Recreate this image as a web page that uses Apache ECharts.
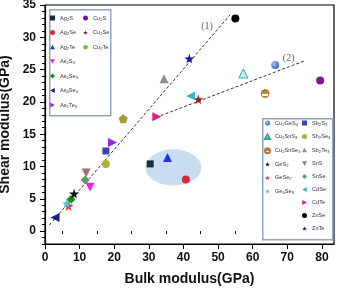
<!DOCTYPE html>
<html><head><meta charset="utf-8">
<script src="https://cdn.jsdelivr.net/npm/echarts@6/dist/echarts.min.js"></script>
<style>html,body{margin:0;padding:0;background:#fff}#c{width:341px;height:288px}</style>
</head><body><div id="c"></div>
<script>
// ---------- data ----------
const compounds = ['Ag2S','Ag2Se','Ag2Te','As2S3','As2Se3','As4Se4','As2Te3',
  'Cu2S','Cu2Se','Cu2Te',
  'Cu2GeS4','Cu2SnS3','Cu2SnSe3','GeS2','GeSe2','Ge4Se9',
  'Sb2S3','Sb2Se3','Sb2Te3','SnS','SnSe','CdSe','CdTe','ZnSe','ZnTe'];
const bulkModulus = [30.4,40.7,35.4,13.0,7.5,2.9,19.5,
  79.5,44.3,22.6,
  66.5,57.3,63.6,8.4,6.8,6.3,
  17.6,17.6,34.4,11.9,11.6,42.1,32.3,55.0,41.7];
const shearModulus = [10.4,8.0,11.4,6.8,4.9,2.1,13.7,
  23.3,20.4,17.4,
  25.7,24.4,21.3,5.8,3.9,4.3,
  12.4,10.4,23.6,9.0,7.9,20.9,17.7,32.9,26.7];
const fitLine1 = [[1.25,0.93],[53.5,33.5]];
const fitLine2 = [[32.1,17.6],[75.2,26.4]];
const lineLabelNames = ['(1)','(2)'];
const lineLabelPos = [[46.8,31.7],[70.4,26.8]];
const ellipseCenter = [37.1, 9.85];
const ellipseRadii = [8.1, 2.8];
const xTickLabels = [0,10,20,30,40,50,60,70,80];
const xMinorTicks = [5,15,25,35,45,55,65,75];
const yTickLabels = [0,5,10,15,20,25,30,35];
const yMinorTicks = [-2,-1,1,2,3,4,6,7,8,9,11,12,13,14,16,17,18,19,21,22,23,24,26,27,28,29,31,32,33,34];
const legendLeftA = compounds.slice(0,7);
const legendLeftB = compounds.slice(7,10);
const legendRightA = compounds.slice(10,16);
const legendRightB = compounds.slice(16);

// ---------- styles ----------
const P = {
  up: 'path://M5,0 L10,9 L0,9 Z',
  down: 'path://M0,0 L10,0 L5,9 Z',
  left: 'path://M0,5 L9,0 L9,10 Z',
  right: 'path://M0,0 L9,5 L0,10 Z',
  star: 'path://M50,0 L61,35 L98,35 L68,57 L79,91 L50,70 L21,91 L32,57 L2,35 L39,35 Z',
  pent: 'path://M50,0 L98,35 L79,91 L21,91 L2,35 Z'
};
const halfFill = {type:'linear',x:0,y:0,x2:0,y2:1,colorStops:[
  {offset:0,color:'#b8773a'},{offset:0.55,color:'#c9894a'},{offset:0.55,color:'#ffffff'},{offset:0.8,color:'#ffffff'},{offset:0.8,color:'#b8773a'},{offset:1,color:'#b8773a'}]};
const sphere = {type:'radial',x:0.35,y:0.35,r:0.7,colorStops:[{offset:0,color:'#a9c8ea'},{offset:1,color:'#2f64a8'}]};
const sty = {
  Ag2S:{s:'rect',z:7,c:'#1c2b40'},
  Ag2Se:{s:'circle',z:8,c:'#d8283a'},
  Ag2Te:{s:P.up,z:9,c:'#1f35e0'},
  As2S3:{s:P.down,z:9,c:'#f020e8'},
  As2Se3:{s:'diamond',z:9,c:'#12901a'},
  As4Se4:{s:P.left,z:9,c:'#142080'},
  As2Te3:{s:P.right,z:9,c:'#9a22f0'},
  Cu2S:{s:'circle',z:8,c:'#8a1190'},
  Cu2Se:{s:P.star,z:10,c:'#8c1c24'},
  Cu2Te:{s:P.pent,z:9,c:'#9aa024'},
  Cu2GeS4:{s:'circle',z:8,c:sphere},
  Cu2SnS3:{s:P.up,z:9,c:'#cdeeee',b:'#2aa8a8'},
  Cu2SnSe3:{s:'circle',z:8,c:halfFill,b:'#b8773a'},
  GeS2:{s:P.star,z:10,c:'#111111'},
  GeSe2:{s:P.star,z:10,c:'#f02020'},
  Ge4Se9:{s:P.star,z:10,c:'#4ec6d6'},
  Sb2S3:{s:'rect',z:7,c:'#3646a8'},
  Sb2Se3:{s:'circle',z:8,c:'#a6b334'},
  Sb2Te3:{s:P.up,z:9,c:'#8e8e8e'},
  SnS:{s:P.down,z:9,c:'#a07474'},
  SnSe:{s:'diamond',z:9,c:'#5f9a66'},
  CdSe:{s:P.left,z:9,c:'#3cb4c8'},
  CdTe:{s:P.right,z:9,c:'#e81484'},
  ZnSe:{s:'circle',z:8,c:'#000000'},
  ZnTe:{s:P.star,z:10,c:'#1616a6'}
};

const FONT = "'Liberation Sans', Arial, sans-serif";
function sub(name){
  return name.replace(/([A-Za-z]+)|(\d+)/g, (m,a,d)=> a ? '{n|'+a+'}' : '{s|'+d+'}');
}
const legendText = {
  fontFamily: FONT, color:'#333',
  rich: {
    n:{fontSize:5.6, lineHeight:7, fontFamily:FONT, color:'#333'},
    s:{fontSize:4.2, lineHeight:4.2, verticalAlign:'bottom', fontFamily:FONT, color:'#333', padding:[2.5,0,0,0]}
  }
};
function mkLegend(data, left, top, gap){
  return {data, orient:'vertical', left, top, itemGap:gap, itemWidth:5, itemHeight:5,
    padding:0, selectedMode:false, formatter:sub, textStyle:legendText, z:20};
}

const series = compounds.map((name,i)=>{
  const st = sty[name];
  return {
    name, type:'scatter', xAxisIndex:0, yAxisIndex:0,
    symbol: st.s, symbolSize: st.z, z:5,
    itemStyle: Object.assign({color: st.c, opacity:1}, st.b ? {borderColor: st.b, borderWidth:1} : {}),
    data: [[bulkModulus[i], shearModulus[i]]]
  };
});
series.unshift({
  type:'custom', name:'ellipse', z:1, silent:true,
  data:[[ellipseCenter[0], ellipseCenter[1], ellipseRadii[0], ellipseRadii[1]]],
  renderItem:(params, api)=>{
    const c = api.coord([api.value(0), api.value(1)]);
    const s = api.size([api.value(2), api.value(3)]);
    return {type:'circle', shape:{cx:0,cy:0,r:1}, x:c[0], y:c[1], scaleX:s[0], scaleY:s[1],
      style:{fill:'rgba(182,210,238,0.75)'}};
  }
});
[fitLine1, fitLine2].forEach((ln,k)=>{
  series.push({type:'line', name:'fit'+k, data:ln, symbol:'none', z:3, silent:true,
    lineStyle:{color:'#333', width:1, type:[3,2]}});
});
series.push({type:'scatter', name:'lbl', symbolSize:0, silent:true, z:4,
  data: lineLabelPos.map((p,i)=>({value:p, name:lineLabelNames[i]})),
  label:{show:true, position:'inside', formatter:'{b}', fontFamily:"'Liberation Serif', 'DejaVu Serif', serif", fontSize:10, color:'#333'}});

const chart = echarts.init(document.getElementById('c'), null, {renderer:'canvas'});
chart.setOption({
  animation:false,
  backgroundColor:'#fff',
  grid:{left:45, right:7, top:5, bottom:44, containLabel:false, outerBoundsMode:'none',
    show:true, borderColor:'#000', borderWidth:1.2, backgroundColor:'transparent'},
  xAxis:[{
    type:'value', min:0, max:83.5,
    name:'Bulk modulus(GPa)', nameLocation:'middle', nameGap:28,
    nameTextStyle:{fontFamily:FONT, fontWeight:'bold', fontSize:14, color:'#111'},
    axisLine:{show:true, onZero:false, lineStyle:{color:'#000', width:1.2}},
    axisTick:{show:true, customValues:xTickLabels, length:5, lineStyle:{color:'#000', width:1}},
    axisLabel:{customValues:xTickLabels, margin:8, fontFamily:FONT, fontWeight:'bold', fontSize:12, color:'#111'},
    splitLine:{show:false}
  },{
    type:'value', min:0, max:83.5, position:'bottom',
    axisLine:{show:false}, axisLabel:{show:false}, splitLine:{show:false},
    axisTick:{show:true, customValues:xMinorTicks, length:3, lineStyle:{color:'#000', width:1}}
  }],
  yAxis:[{
    type:'value', min:-2, max:35,
    name:'Shear modulus(GPa)', nameLocation:'middle', nameGap:23,
    nameTextStyle:{fontFamily:FONT, fontWeight:'bold', fontSize:14, color:'#111'},
    axisLine:{show:true, onZero:false, lineStyle:{color:'#000', width:1.2}},
    axisTick:{show:true, customValues:yTickLabels, length:5, lineStyle:{color:'#000', width:1}},
    axisLabel:{customValues:yTickLabels, margin:9, fontFamily:FONT, fontWeight:'bold', fontSize:12, color:'#111'},
    splitLine:{show:false}
  },{
    type:'value', min:-2, max:35, position:'left', offset:0,
    axisLine:{show:false}, axisLabel:{show:false}, splitLine:{show:false},
    axisTick:{show:true, customValues:yMinorTicks, length:3, lineStyle:{color:'#000', width:1}}
  }],
  graphic:[
    {type:'rect', left:49, top:9, shape:{width:61, height:106}, style:{fill:'#fff', stroke:'#8fa4bf', lineWidth:1.5}, z:15},
    {type:'rect', left:262, top:118, shape:{width:70, height:121}, style:{fill:'#fff', stroke:'#8fa4bf', lineWidth:1.5}, z:15}
  ],
  legend:[
    mkLegend(legendLeftA, 50, 15, 8),
    mkLegend(legendLeftB, 83, 15, 8),
    mkLegend(legendRightA, 264, 120, 7),
    mkLegend(legendRightB, 302, 120, 7)
  ],
  series
});
</script></body></html>
